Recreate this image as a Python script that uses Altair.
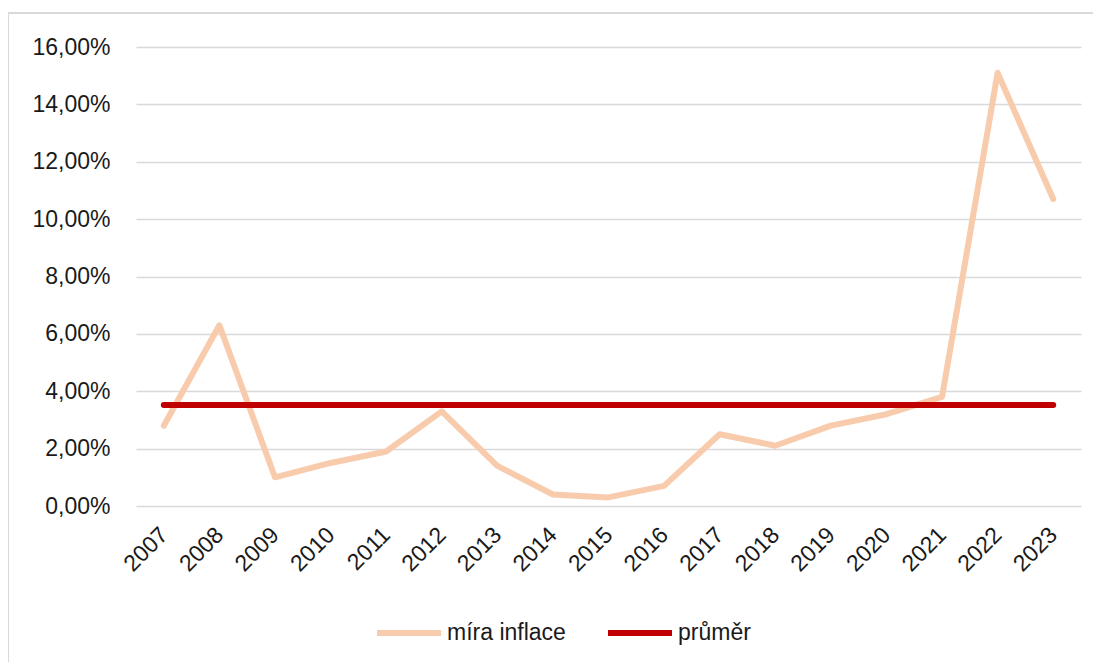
import altair as alt
import pandas as pd

years = ["2007", "2008", "2009", "2010", "2011", "2012", "2013", "2014", "2015",
         "2016", "2017", "2018", "2019", "2020", "2021", "2022", "2023"]
inflation = [2.8, 6.3, 1.0, 1.5, 1.9, 3.3, 1.4, 0.4, 0.3, 0.7, 2.5, 2.1, 2.8, 3.2, 3.8, 15.1, 10.7]
average = [3.52, 3.52, 3.52, 3.52, 3.52, 3.52, 3.52, 3.52, 3.52,
           3.52, 3.52, 3.52, 3.52, 3.52, 3.52, 3.52, 3.52]
series_names = ["míra inflace", "průměr"]
series_colors = ["#F8CBAD", "#C00000"]
y_ticks = [0, 2, 4, 6, 8, 10, 12, 14, 16]

df_inf = pd.DataFrame({"rok": years, "hodnota": inflation, "řada": series_names[0]})
df_avg = pd.DataFrame({"rok": years, "hodnota": average, "řada": series_names[1]})

FONT = "Liberation Sans"
FS = 23

x_enc = alt.X("rok:N", sort=years, title=None,
              scale=alt.Scale(paddingInner=0, paddingOuter=0.5),
              axis=alt.Axis(labelAngle=315, labelAlign="right", labelBaseline="middle",
                            labelPadding=25, domain=False, ticks=False, grid=False,
                            labelFontSize=FS, labelFont=FONT, labelColor="#1a1a1a"))
y_enc = alt.Y("hodnota:Q", title=None,
              scale=alt.Scale(domain=[0, 16], nice=False),
              axis=alt.Axis(values=y_ticks, domain=False, ticks=False, grid=True,
                            gridColor="#d9d9d9", gridWidth=1.3, labelPadding=26,
                            labelFontSize=FS, labelFont=FONT, labelColor="#1a1a1a",
                            labelExpr="replace(format(datum.value, '.2f'), '.', ',') + '%'"))
color_enc = alt.Color("řada:N", title=None,
                      scale=alt.Scale(domain=series_names, range=series_colors),
                      legend=alt.Legend(orient="none", legendX=238, legendY=551,
                                        direction="horizontal", symbolType="stroke",
                                        symbolSize=4096, symbolStrokeWidth=6,
                                        labelFontSize=FS, labelFont=FONT,
                                        labelColor="#1a1a1a", labelOffset=3,
                                        columnPadding=30))

frame = alt.Chart(df_inf).mark_rect(filled=False, stroke="#d9d9d9", strokeWidth=2).encode(
    x=alt.value(-128), x2=alt.value(3000), y=alt.value(-34), y2=alt.value(3000)
)

line_inf = alt.Chart(df_inf).mark_line(strokeWidth=6, strokeCap="round", strokeJoin="round").encode(
    x=x_enc, y=y_enc, color=color_enc
)
line_avg = alt.Chart(df_avg).mark_line(strokeWidth=6, strokeCap="round", strokeJoin="round").encode(
    x=x_enc, y=y_enc, color=color_enc
)

chart = alt.layer(frame, line_inf, line_avg).properties(
    width=945, height=459,
    autosize="none",
    padding={"left": 128, "top": 39, "right": 12, "bottom": 156},
    background="white",
).configure_view(stroke=None)

chart.save("out.html", embed_options={"renderer": "svg", "actions": False})
